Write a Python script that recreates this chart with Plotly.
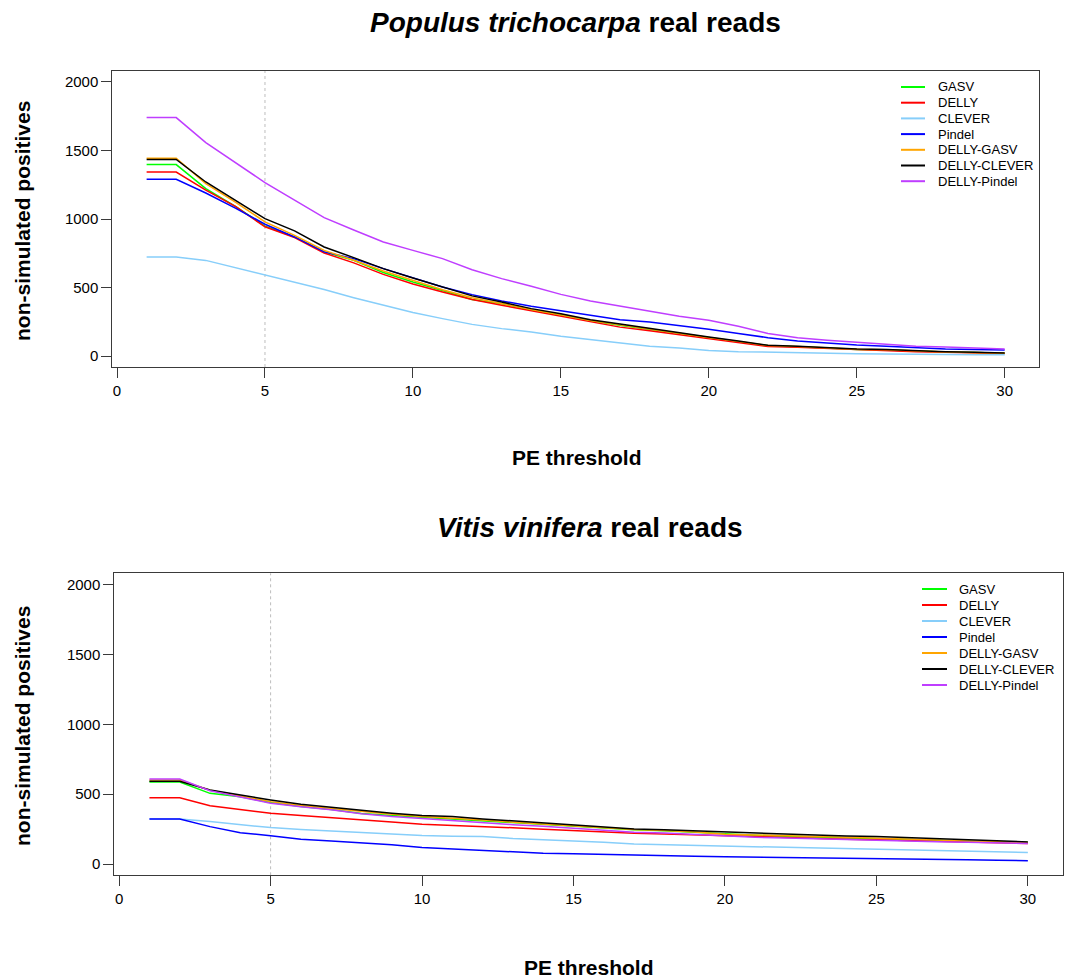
import plotly.graph_objects as go

W, H = 1065, 979

pe = list(range(1, 31))
methods = ["GASV", "DELLY", "CLEVER", "Pindel", "DELLY-GASV", "DELLY-CLEVER", "DELLY-Pindel"]
colors = ["#00FF00", "#FF0000", "#87CEFA", "#0000FF", "#FFA500", "#000000", "#BF3EFF"]

# Populus trichocarpa real reads
pop_gasv = [1397, 1397, 1222, 1092, 948, 869, 760, 699, 610, 540, 478, 412, 382, 335, 300, 258, 225, 194, 163, 134, 105, 75, 68, 58, 48, 44, 34, 29, 25, 20]
pop_delly = [1343, 1343, 1210, 1092, 943, 865, 752, 680, 596, 526, 467, 412, 370, 329, 290, 248, 211, 185, 155, 130, 100, 70, 64, 55, 45, 41, 32, 27, 23, 19]
pop_clever = [723, 723, 698, 645, 596, 540, 485, 426, 370, 317, 273, 231, 200, 175, 144, 120, 92, 71, 59, 41, 32, 27, 25, 22, 17, 15, 12, 12, 10, 10]
pop_pindel = [1290, 1290, 1190, 1080, 962, 869, 760, 711, 638, 572, 504, 448, 402, 363, 329, 297, 265, 248, 224, 195, 164, 134, 110, 95, 80, 71, 61, 51, 47, 44]
pop_delly_gasv = [1443, 1443, 1258, 1124, 979, 881, 771, 699, 621, 550, 484, 426, 382, 340, 302, 260, 228, 196, 165, 136, 107, 76, 69, 59, 49, 45, 35, 30, 26, 21]
pop_delly_clever = [1435, 1435, 1270, 1137, 1003, 913, 796, 718, 638, 569, 504, 439, 394, 346, 309, 265, 233, 200, 168, 139, 110, 78, 71, 61, 51, 47, 37, 32, 27, 22]
pop_delly_pindel = [1740, 1740, 1558, 1409, 1266, 1137, 1010, 920, 832, 771, 711, 630, 565, 509, 450, 402, 365, 328, 290, 261, 217, 164, 134, 115, 100, 85, 71, 66, 58, 51]

# Vitis vinifera real reads
vit_gasv = [587, 587, 506, 482, 440, 412, 390, 362, 348, 335, 322, 308, 296, 282, 270, 258, 245, 238, 228, 214, 207, 200, 193, 187, 182, 176, 170, 164, 159, 155]
vit_delly = [475, 475, 418, 392, 364, 347, 333, 316, 302, 285, 278, 268, 260, 250, 240, 228, 221, 216, 209, 202, 196, 190, 184, 178, 174, 168, 163, 158, 153, 148]
vit_clever = [323, 323, 304, 281, 261, 247, 235, 228, 211, 204, 200, 197, 183, 175, 166, 157, 143, 138, 133, 128, 123, 118, 113, 108, 104, 100, 96, 92, 88, 83]
vit_pindel = [323, 323, 268, 225, 202, 178, 166, 154, 138, 118, 107, 97, 88, 78, 74, 71, 67, 62, 57, 52, 50, 47, 44, 42, 40, 37, 34, 31, 28, 24]
vit_delly_gasv = [601, 601, 528, 488, 447, 420, 398, 375, 357, 340, 330, 315, 300, 286, 274, 262, 247, 240, 230, 214, 210, 204, 198, 192, 187, 180, 172, 165, 159, 154]
vit_delly_clever = [592, 592, 530, 494, 459, 428, 407, 383, 364, 347, 340, 323, 309, 293, 281, 269, 252, 245, 238, 226, 220, 213, 206, 201, 197, 190, 181, 172, 165, 159]
vit_delly_pindel = [609, 609, 525, 482, 435, 410, 388, 360, 340, 326, 310, 295, 282, 270, 257, 245, 228, 222, 212, 197, 192, 186, 180, 175, 170, 165, 160, 156, 152, 148]

x_ticks = [0, 5, 10, 15, 20, 25, 30]
y_ticks = [0, 500, 1000, 1500, 2000]
threshold_line = 5

pop_series = [pop_gasv, pop_delly, pop_clever, pop_pindel, pop_delly_gasv, pop_delly_clever, pop_delly_pindel]
vit_series = [vit_gasv, vit_delly, vit_clever, vit_pindel, vit_delly_gasv, vit_delly_clever, vit_delly_pindel]

FONT = "Liberation Sans, Arial, Helvetica, sans-serif"
AX = "#3a3a3a"

fig = go.Figure()
for name, col, ys in zip(methods, colors, pop_series):
    fig.add_trace(go.Scatter(x=pe, y=ys, mode="lines", name=name, line=dict(color=col, width=1.5),
                             xaxis="x", yaxis="y", showlegend=False))
for name, col, ys in zip(methods, colors, vit_series):
    fig.add_trace(go.Scatter(x=pe, y=ys, mode="lines", name=name, line=dict(color=col, width=1.5),
                             xaxis="x2", yaxis="y2", showlegend=False))

def px_x(p):
    return p / W

def px_y(p):
    return 1 - p / H

xaxis_common = dict(range=[-0.16, 31.16], tickvals=x_ticks, showgrid=False, zeroline=False,
                    showline=True, mirror=True, linecolor=AX, linewidth=1,
                    ticks="outside", ticklen=10, tickcolor=AX, tickwidth=1,
                    tickfont=dict(family=FONT, size=15, color="#000"))
yaxis_common = dict(range=[-80, 2080], tickvals=y_ticks, showgrid=False, zeroline=False,
                    showline=True, mirror=True, linecolor=AX, linewidth=1,
                    ticks="outside", ticklen=10, tickcolor=AX, tickwidth=1,
                    tickfont=dict(family=FONT, size=15, color="#000"))

fig.update_layout(
    width=W, height=H,
    margin=dict(l=0, r=0, t=0, b=0),
    paper_bgcolor="white", plot_bgcolor="white",
    showlegend=False,
    xaxis=dict(domain=[px_x(112.3), px_x(1039)], anchor="y", **xaxis_common),
    yaxis=dict(domain=[px_y(367), px_y(71)], anchor="x", **yaxis_common),
    xaxis2=dict(domain=[px_x(114.3), px_x(1063)], anchor="y2", **xaxis_common),
    yaxis2=dict(domain=[px_y(875.3), px_y(573.3)], anchor="x2", **yaxis_common),
)

for xr, yr in (("x", "y domain"), ("x2", "y2 domain")):
    fig.add_shape(type="line", xref=xr, yref=yr, x0=threshold_line, x1=threshold_line, y0=0, y1=1,
                  line=dict(color="#bdbdbd", width=1, dash="dot"), layer="below")

# legends (drawn as swatch + label rows inside each panel)
legend_specs = [
    dict(swatch=(901, 925), text_x=936, top=87, step=15.7),
    dict(swatch=(922, 947), text_x=957, top=589, step=16.0),
]
for spec in legend_specs:
    for i, (name, col) in enumerate(zip(methods, colors)):
        yy = px_y(spec["top"] + i * spec["step"])
        fig.add_shape(type="line", xref="paper", yref="paper",
                      x0=px_x(spec["swatch"][0]), x1=px_x(spec["swatch"][1]), y0=yy, y1=yy,
                      line=dict(color=col, width=2))
        fig.add_annotation(text=name, x=px_x(spec["text_x"]), y=yy, xref="paper", yref="paper",
                           xanchor="left", yanchor="middle", showarrow=False,
                           font=dict(family=FONT, size=13, color="#000"))

annos = [
    dict(text="<b><i>Populus trichocarpa</i> real reads</b>", x=px_x(575.6), y=px_y(22), size=28, angle=0),
    dict(text="<b><i>Vitis vinifera</i> real reads</b>", x=px_x(590), y=px_y(527), size=28, angle=0),
    dict(text="<b>PE threshold</b>", x=px_x(577), y=px_y(457), size=21, angle=0),
    dict(text="<b>PE threshold</b>", x=px_x(589), y=px_y(967), size=21, angle=0),
    dict(text="<b>non-simulated positives</b>", x=px_x(22), y=px_y(221), size=21, angle=-90),
    dict(text="<b>non-simulated positives</b>", x=px_x(22), y=px_y(726), size=21, angle=-90),
]
for a in annos:
    fig.add_annotation(text=a["text"], x=a["x"], y=a["y"], xref="paper", yref="paper",
                       xanchor="center", yanchor="middle", showarrow=False, textangle=a["angle"],
                       font=dict(family=FONT, size=a["size"], color="#000"))

fig.write_html("out.html")
